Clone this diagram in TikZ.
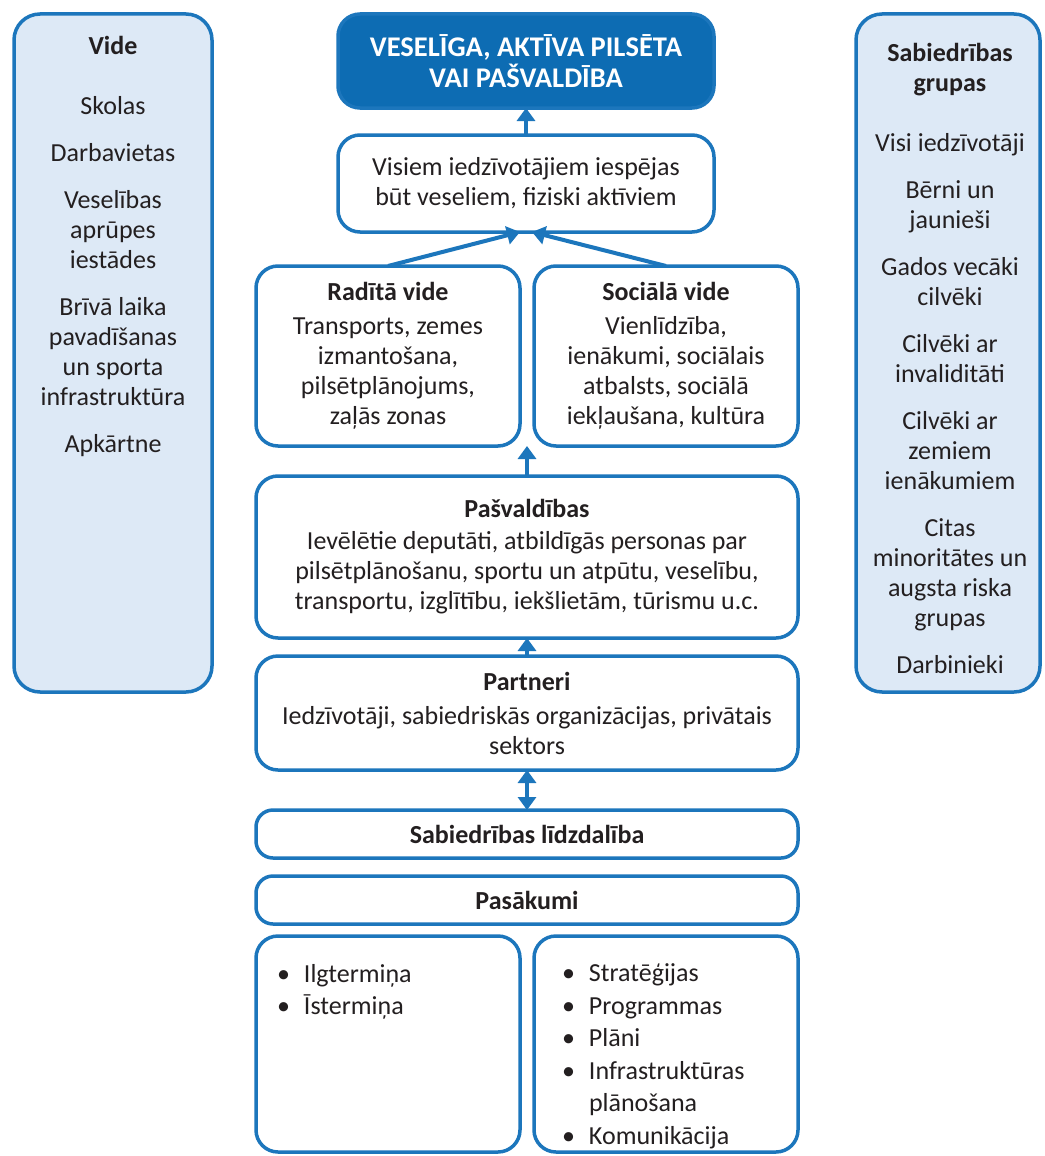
\documentclass[tikz,border=0pt]{standalone}
\usepackage{fontspec}
\setmainfont{Carlito}
\usetikzlibrary{arrows.meta}
\definecolor{bordblue}{HTML}{1C76BC}
\definecolor{darkblue}{HTML}{0D6CB3}
\definecolor{lightfill}{HTML}{DDE9F6}
\definecolor{txt}{HTML}{231F20}
\begin{document}
\begin{tikzpicture}[x=1pt,y=-1pt,
  base/.style={draw=bordblue, line width=3.5pt, inner sep=0pt, outer sep=0pt, align=center, text=txt,
    font=\fontsize{26}{30}\selectfont},
  midbox/.style={base, fill=white, rounded corners=22pt},
  smallbox/.style={base, fill=white, rounded corners=17pt},
  sidebox/.style={base, fill=lightfill, rounded corners=26pt},
  topbox/.style={base, fill=darkblue, text=white, rounded corners=22pt,
    font=\fontsize{28.5}{31}\selectfont\bfseries},
  lbl/.style={inner sep=0pt, outer sep=0pt, text=txt, font=\fontsize{26}{30}\selectfont},
  arr/.style={draw=bordblue, line width=4pt, -{Triangle[width=18pt,length=13pt]}},
  darr/.style={draw=bordblue, line width=4pt, {Triangle[width=18pt,length=13pt]}-{Triangle[width=18pt,length=13pt]}}
]
\useasboundingbox (0,0) rectangle (1044,1156);
\fill[white] (0,0) rectangle (1044,1156);

% side boxes
\node[sidebox, minimum width=198pt, minimum height=678pt] (vide) at (113,353) {};
\node[lbl, anchor=north, align=center] (videt) at (113,36)
  {\textbf{Vide}\\[30pt]Skolas\\[17pt]Darbavietas\\[17pt]Veselības\\aprūpes\\iestādes\\[17pt]Brīvā laika\\pavadīšanas\\un sporta\\infrastruktūra\\[17pt]Apkārtne};

\node[sidebox, minimum width=184pt, minimum height=678pt] (grupas) at (948,353) {};
\node[lbl, anchor=north, align=center] (grupast) at (950,43)
  {\textbf{Sabiedrības}\\\textbf{grupas}\\[30pt]Visi iedzīvotāji\\[17pt]Bērni un\\jaunieši\\[17pt]Gados vecāki\\cilvēki\\[17pt]Cilvēki ar\\invaliditāti\\[17pt]Cilvēki ar\\zemiem\\ienākumiem\\[17pt]Citas\\minoritātes un\\augsta riska\\grupas\\[17pt]Darbinieki};

% central column
\node[topbox, minimum width=376pt, minimum height=94pt] (goal) at (526,61)
  {VESELĪGA, AKTĪVA PILSĒTA\\VAI PAŠVALDĪBA};
\node[midbox, minimum width=376pt, minimum height=97pt] (vis) at (526,183.5)
  {Visiem iedzīvotājiem iespējas\\būt veseliem, fiziski aktīviem};
\node[midbox, minimum width=264pt, minimum height=180pt] (rad) at (388,356)
  {\textbf{Radītā vide}\\[4pt]Transports, zemes\\izmantošana,\\pilsētplānojums,\\zaļās zonas};
\node[midbox, minimum width=264pt, minimum height=180pt] (soc) at (666,356)
  {\textbf{Sociālā vide}\\[4pt]Vienlīdzība,\\ienākumi, sociālais\\atbalsts, sociālā\\iekļaušana, kultūra};
\node[midbox, minimum width=542pt, minimum height=162pt] (pasv) at (527,557)
  {\textbf{Pašvaldības}\\[2pt]Ievēlētie deputāti, atbildīgās personas par\\pilsētplānošanu, sportu un atpūtu, veselību,\\transportu, izglītību, iekšlietām, tūrismu u.c.};
\node[midbox, minimum width=542pt, minimum height=114pt] (partn) at (527,713)
  {\textbf{Partneri}\\[4pt]Iedzīvotāji, sabiedriskās organizācijas, privātais\\sektors};
\node[smallbox, minimum width=542pt, minimum height=48pt] (lidz) at (527,834)
  {\textbf{Sabiedrības līdzdalība}};
\node[smallbox, minimum width=542pt, minimum height=48pt] (pas) at (527,900)
  {\textbf{Pasākumi}};
\node[midbox, minimum width=264pt, minimum height=216pt] (termin) at (388,1044) {};
\node[midbox, minimum width=264pt, minimum height=216pt] (instr) at (666,1044) {};
\node[lbl, anchor=north west, align=left, font=\fontsize{26}{32.5}\selectfont] (termint) at (277,964)
  {\makebox[27pt][l]{•}Ilgtermiņa\\\makebox[27pt][l]{•}Īstermiņa};
\node[lbl, anchor=north west, align=left, font=\fontsize{26}{32.5}\selectfont] (instrt) at (562,964)
  {\makebox[27pt][l]{•}Stratēģijas\\\makebox[27pt][l]{•}Programmas\\\makebox[27pt][l]{•}Plāni\\\makebox[27pt][l]{•}Infrastruktūras\\\hspace*{27pt}plānošana\\\makebox[27pt][l]{•}Komunikācija};

% connectors
\draw[arr] (vis.north) -- (goal.south);
\draw[arr] (rad.north) -- ([xshift=-6pt]vis.south);
\draw[arr] (soc.north) -- ([xshift=6pt]vis.south);
\draw[arr] (pasv.north) -- (pasv.north |- rad.south);
\draw[arr] (partn.north) -- (pasv.south);
\draw[darr] (lidz.north) -- (partn.south);
\end{tikzpicture}
\end{document}
